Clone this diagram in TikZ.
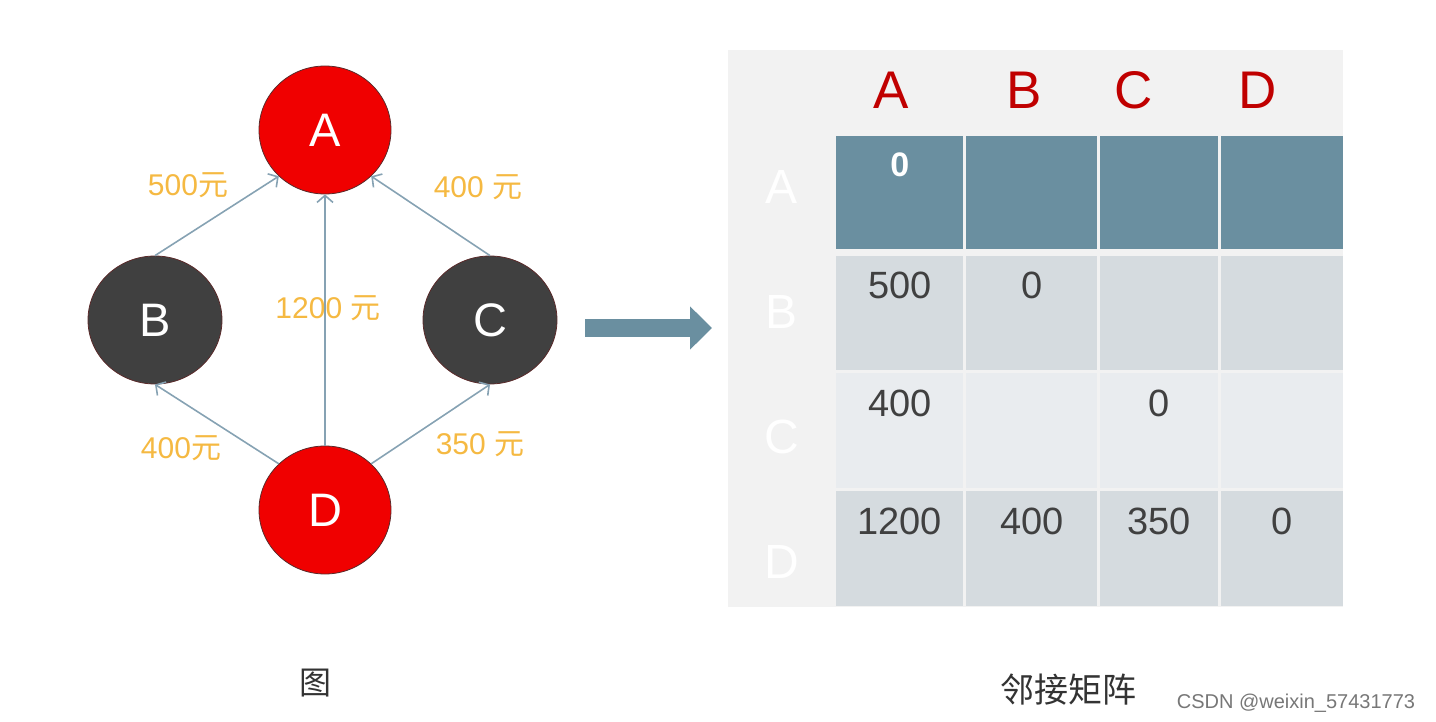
\documentclass[tikz,border=0pt]{standalone}
\usepackage{fontspec}
\setmainfont{Liberation Sans}
\newfontfamily\cjk{Noto Sans CJK SC}
\usetikzlibrary{arrows.meta,shapes.geometric}
\definecolor{nodered}{HTML}{F00000}
\definecolor{nodedark}{HTML}{404040}
\definecolor{vertexline}{HTML}{5A2A2A}
\definecolor{edgeblue}{HTML}{86A2B3}
\definecolor{costorange}{HTML}{F5B942}
\definecolor{steel}{HTML}{6A8FA0}
\definecolor{rowdark}{HTML}{D5DBDF}
\definecolor{rowlight}{HTML}{E9ECEF}
\definecolor{panel}{HTML}{F2F2F2}
\definecolor{headred}{HTML}{C00000}
\definecolor{valgray}{HTML}{404040}
\definecolor{captiongray}{HTML}{333333}
\definecolor{markgray}{HTML}{777777}

\begin{document}
\begin{tikzpicture}[x=1pt, y=-1pt,
    vertex/.style={ellipse, draw=vertexline, line width=0.8pt, minimum width=132pt, minimum height=128pt, inner sep=0pt, text=white, font=\fontsize{47}{47}\selectfont},
    edge/.style={draw=edgeblue, line width=1.6pt, -{Straight Barb[length=7pt,width=16pt]}},
    cost/.style={text=costorange, font=\fontsize{30}{30}\selectfont},
    cell/.style={rectangle, anchor=north west, inner sep=0pt, minimum height=114pt},
    val/.style={text=valgray, font=\fontsize{38}{38}\selectfont},
    colhead/.style={text=headred, font=\fontsize{53}{53}\selectfont},
    rowhead/.style={text=white, font=\fontsize{48}{48}\selectfont},
    caption/.style={text=captiongray, font=\cjk\fontsize{33}{33}\selectfont}
]
\useasboundingbox (0,0) rectangle (1436,722);

% graph
\node[vertex, fill=nodered] (A) at (325,130) {A};
\node[vertex, fill=nodedark, minimum width=134pt] (B) at (155,320) {B};
\node[vertex, fill=nodedark, minimum width=134pt] (C) at (490,320) {C};
\node[vertex, fill=nodered] (D) at (325,510) {D};

\node[cost] (costBA) at (188,185) {500{\cjk 元}};
\node[cost] (costCA) at (478,187) {400 {\cjk 元}};
\node[cost] (costDA) at (328,308) {1200 {\cjk 元}};
\node[cost] (costDB) at (181,448) {400{\cjk 元}};
\node[cost] (costDC) at (480,444) {350 {\cjk 元}};

\draw[edge] (B.north) -- (A.225);
\draw[edge] (C.north) -- (A.315);
\draw[edge] (D.north) -- (A.south);
\draw[edge] (D.135) -- (B.south);
\draw[edge] (D.45) -- (C.south);

\coordinate (arrowtail) at (585,328);
\coordinate (arrowtip) at (712,328);
\draw[steel, line width=18pt, -{Triangle[length=22pt,width=42pt]}] (arrowtail) -- (arrowtip);

% adjacency matrix
\fill[panel] (728,50) rectangle (1343,607);
\node[colhead] (hA) at (891,90) {A};
\node[colhead] (hB) at (1024,90) {B};
\node[colhead] (hC) at (1134,90) {C};
\node[colhead] (hD) at (1258,90) {D};

\foreach \c/\x/\w in {1/836/127,2/966/131,3/1100/118,4/1221/122} {
  \node[cell, fill=steel, minimum width=\w pt, minimum height=113pt] (a\c) at (\x,136) {};
  \node[cell, fill=rowdark, minimum width=\w pt] (b\c) at (\x,256) {};
  \node[cell, fill=rowlight, minimum width=\w pt, minimum height=115pt] (c\c) at (\x,373) {};
  \node[cell, fill=rowdark, minimum width=\w pt, minimum height=115pt] (d\c) at (\x,491) {};
}

\node[rowhead] (rA) at (782,187) {A};
\node[rowhead] (rB) at (782,312) {B};
\node[rowhead] (rC) at (782,437) {C};
\node[rowhead] (rD) at (782,562) {D};

\node[val, text=white, font=\bfseries\fontsize{34}{34}\selectfont] (va1) at ([yshift=-29pt]a1.north) {0};
\node[val] (vb1) at ([yshift=-29pt]b1.north) {500};
\node[val] (vb2) at ([yshift=-29pt]b2.north) {0};
\node[val] (vc1) at ([yshift=-30pt]c1.north) {400};
\node[val] (vc3) at ([yshift=-30pt]c3.north) {0};
\node[val] (vd1) at ([yshift=-30pt]d1.north) {1200};
\node[val] (vd2) at ([yshift=-30pt]d2.north) {400};
\node[val] (vd3) at ([yshift=-30pt]d3.north) {350};
\node[val] (vd4) at ([yshift=-30pt]d4.north) {0};

% captions
\node[caption, font=\cjk\fontsize{32}{32}\selectfont] (graphcap) at (315,683) {图};
\node[caption, font=\cjk\fontsize{34}{34}\selectfont] (matrixcap) at (1068,690) {邻接矩阵};
\node[text=markgray, font=\fontsize{20}{20}\selectfont] (mark) at (1296,703) {CSDN @weixin\_57431773};
\end{tikzpicture}
\end{document}
